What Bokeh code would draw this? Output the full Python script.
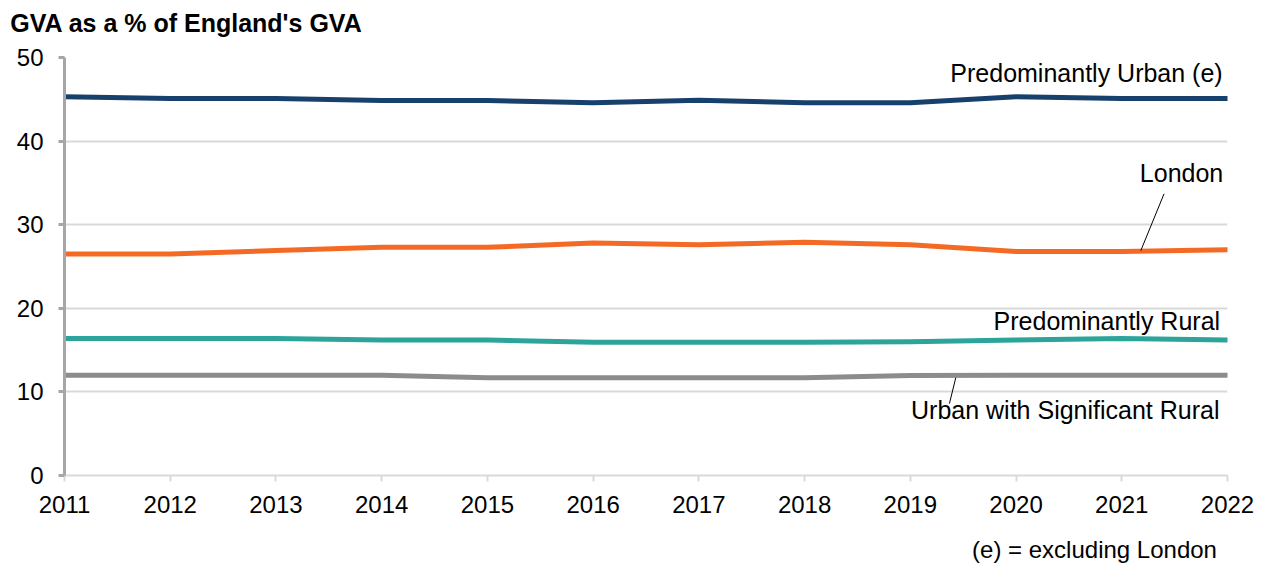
from bokeh.plotting import figure
from bokeh.models import Range1d, FixedTicker, Label, Segment, ColumnDataSource, LinearAxis
from bokeh.embed import file_html
from bokeh.resources import INLINE

years = list(range(2011, 2023))
urban = [45.3, 45.1, 45.1, 44.85, 44.85, 44.6, 44.9, 44.6, 44.6, 45.3, 45.1, 45.1]
london = [26.5, 26.5, 26.9, 27.3, 27.3, 27.8, 27.6, 27.9, 27.6, 26.8, 26.8, 27.0]
rural = [16.4, 16.4, 16.4, 16.2, 16.2, 15.95, 15.95, 15.95, 16.0, 16.2, 16.4, 16.2]
urban_sig = [12.0, 12.0, 12.0, 12.0, 11.7, 11.7, 11.7, 11.7, 11.95, 12.0, 12.0, 12.0]

series_names = ["Predominantly  Urban (e)", "London", "Predominantly Rural", "Urban  with Significant Rural"]
series_values = [urban, london, rural, urban_sig]
series_colors = ["#17406d", "#f46a25", "#2ca49a", "#8c8c8c"]

y_ticks = [0, 10, 20, 30, 40, 50]
title_text = "GVA as a % of England's GVA"
note_text = "(e) = excluding London"

FONT = "Liberation Sans"
W, H = 1255, 567
LEFT, RIGHT, TOP, BOTTOM = 64, 28, 57, 92

p = figure(width=W, height=H, output_backend="svg", toolbar_location=None,
           x_range=Range1d(2011, 2022), y_range=Range1d(0, 50),
           min_border_left=LEFT, min_border_right=RIGHT, min_border_top=TOP, min_border_bottom=BOTTOM)
p.outline_line_color = None
p.background_fill_color = "white"
p.border_fill_color = "white"
# pixel-like range used only to place the heading and the footnote
p.extra_x_ranges = {"px": Range1d(LEFT, W - RIGHT)}

# grid
p.xgrid.grid_line_color = None
p.ygrid.ticker = FixedTicker(ticks=y_ticks)
p.ygrid.grid_line_color = "#d9d9d9"
p.ygrid.grid_line_width = 2

# axes
p.yaxis.ticker = FixedTicker(ticks=y_ticks)
p.yaxis.axis_line_color = "#a6a6a6"
p.yaxis.axis_line_width = 3
p.yaxis.major_tick_line_color = "#a6a6a6"
p.yaxis.major_tick_line_width = 3
p.yaxis.major_tick_out = 6
p.yaxis.major_tick_in = 0
p.yaxis.minor_tick_line_color = None
p.yaxis.major_label_text_font = FONT
p.yaxis.major_label_text_font_size = "24px"
p.yaxis.major_label_text_color = "#000000"
p.yaxis.major_label_standoff = 15

p.xaxis.ticker = FixedTicker(ticks=years)
p.xaxis.axis_line_color = "#d9d9d9"
p.xaxis.axis_line_width = 2
p.xaxis.major_tick_line_color = "#d9d9d9"
p.xaxis.major_tick_line_width = 2
p.xaxis.major_tick_out = 6
p.xaxis.major_tick_in = 0
p.xaxis.minor_tick_line_color = None
p.xaxis.major_label_text_font = FONT
p.xaxis.major_label_text_font_size = "24px"
p.xaxis.major_label_text_color = "#000000"
p.xaxis.major_label_standoff = 14

for vals, col in zip(series_values, series_colors):
    p.line(years, vals, line_width=5, line_color=col, line_cap="round", line_join="round")

# series labels (annotation positions, data units)
label_pos = [(2022.02, 48.1), (2021.96, 36.2), (2021.93, 18.5), (2021.99, 7.8)]
for name, (lx, ly) in zip(series_names, label_pos):
    p.add_layout(Label(x=lx, y=ly, text=name, text_align="right", text_baseline="middle",
                       text_font=FONT, text_font_size="25px", text_color="#000000"))

# leader lines
leaders = ColumnDataSource(dict(x0=[2021.4, 2019.43], y0=[33.7, 11.7], x1=[2021.18, 2019.37], y1=[26.9, 8.6]))
p.add_glyph(leaders, Segment(x0="x0", y0="y0", x1="x1", y1="y1", line_color="#000000", line_width=1))


def text_axis(center_px, text, standoff, size, style):
    ax = LinearAxis(x_range_name="px", ticker=FixedTicker(ticks=[center_px]),
                    major_label_overrides={center_px: text})
    ax.axis_line_color = None
    ax.major_tick_line_color = None
    ax.minor_tick_line_color = None
    ax.major_tick_out = 0
    ax.major_tick_in = 0
    ax.major_label_standoff = standoff
    ax.major_label_text_font = FONT
    ax.major_label_text_font_size = size
    ax.major_label_text_font_style = style
    ax.major_label_text_color = "#000000"
    return ax


p.add_layout(text_axis(186, title_text, 21, "25px", "bold"), "above")
p.add_layout(text_axis(1094, note_text, 20, "24px", "normal"), "below")

open("out.html", "w").write(file_html(p, INLINE))
